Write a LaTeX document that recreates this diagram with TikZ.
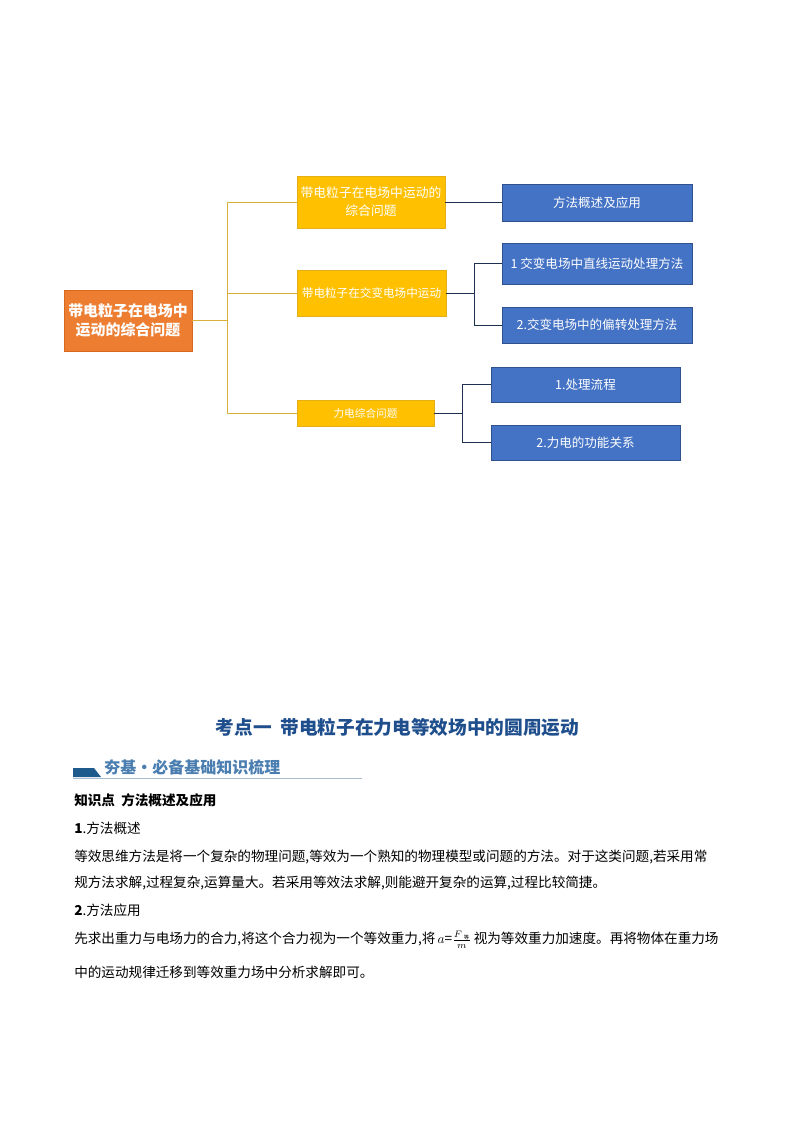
\documentclass[tikz,border=0pt]{standalone}
\usepackage{fontspec}
\setmainfont{Noto Sans CJK SC}
\usetikzlibrary{positioning,calc}
\definecolor{rootfill}{HTML}{ED7D31}
\definecolor{rootline}{HTML}{D86A20}
\definecolor{gold}{HTML}{FFC000}
\definecolor{goldline}{HTML}{E3AE16}
\definecolor{trunkline}{HTML}{D9AE3A}
\definecolor{leaf}{HTML}{4472C4}
\definecolor{leafline}{HTML}{2F528F}
\definecolor{navy}{HTML}{1F2F4F}
\definecolor{titleblue}{HTML}{1F4E8C}
\definecolor{headblue}{HTML}{4A7DB0}
\definecolor{headbar}{HTML}{1F5A8C}
\definecolor{rule}{HTML}{A9BCD0}
\tikzset{rootbox/.style={draw=rootline,fill=rootfill,text=white,align=center,font=\fontsize{11.2}{14.5}\selectfont\bfseries,minimum width=96pt,minimum height=45.75pt,inner sep=1pt},
midbox/.style={draw=goldline,fill=gold,text=white,align=center,inner sep=1pt},
leafbox/.style={draw=leafline,fill=leaf,text=white,align=center,font=\fontsize{9.4}{11}\selectfont,minimum width=142.5pt,inner sep=1pt},
trunk/.style={draw=trunkline,line width=0.7pt},
twig/.style={draw=navy,line width=0.7pt},
bodytext/.style={anchor=west,inner sep=0pt,font=\fontsize{10.2}{12}\selectfont}}

\begin{document}
\begin{tikzpicture}[x=0.75pt,y=-0.75pt]
\useasboundingbox (0,0) rectangle (794,1123);
% mind map
\node[rootbox] (root) at (128,320.5) {带电粒子在电场中\\运动的综合问题};
\node[midbox,minimum width=111pt,minimum height=39pt,font=\fontsize{9.6}{13.5}\selectfont] (y1) at (371,202) {带电粒子在电场中运动的\\综合问题};
\node[midbox,minimum width=111.75pt,minimum height=34.5pt,font=\fontsize{8.7}{11}\selectfont] (y2) at (371.5,293) {带电粒子在交变电场中运动};
\node[midbox,minimum width=102.75pt,minimum height=19.5pt,font=\fontsize{8}{10}\selectfont] (y3) at (365.5,413.5) {力电综合问题};
\node[leafbox,minimum height=27.75pt] (b1) at (597,202.5) {方法概述及应用};
\node[leafbox,minimum height=30.75pt] (b2) at (597,263.5) {1 交变电场中直线运动处理方法};
\node[leafbox,minimum height=27pt] (b3) at (597,325) {2.交变电场中的偏转处理方法};
\node[leafbox,minimum width=141.75pt,minimum height=26.25pt] (b4) at (585.5,384.5) {1.处理流程};
\node[leafbox,minimum width=141.75pt,minimum height=26.25pt] (b5) at (585.5,442.5) {2.力电的功能关系};
% connectors
\draw[trunk] (root.east) -- ++(35,0) coordinate (j0);
\draw[trunk] (j0) |- (y1.west);
\draw[trunk] (j0) |- (y2.west);
\draw[trunk] (j0) |- (y3.west);
\draw[twig] (y1.east) -- (y1.east -| b1.west);
\draw[twig] (y2.east) -- ++(28,0) coordinate (j2);
\draw[twig] (j2) |- (b2.west);
\draw[twig] (j2) |- (b3.west);
\draw[twig] (y3.east) -- ++(28,0) coordinate (j3);
\draw[twig] (j3) |- (b4.west);
\draw[twig] (j3) |- (b5.west);
% text part
\node[text=titleblue,font=\fontsize{14}{16}\selectfont\bfseries] (title) at (397.5,727) {考点一\ \ 带电粒子在力电等效场中的圆周运动};
\fill[headbar] (73,768) -- (94,768) -- (101,777) -- (73,777) -- cycle;
\node[anchor=west,inner sep=0pt,text=headblue,font=\fontsize{12}{14}\selectfont\bfseries] (head) at (104,767.5) {夯基·必备基础知识梳理};
\draw[rule,line width=0.6pt] (73,778) -- (362,778);
\node[bodytext,font=\fontsize{10.2}{12}\selectfont\bfseries] (kp) at (74,800) {知识点\ \ 方法概述及应用};
\node[bodytext] (s1) at (74,828) {\textbf{1}.方法概述};
\node[bodytext] (p1) at (74,857) {等效思维方法是将一个复杂的物理问题,等效为一个熟知的物理模型或问题的方法。对于这类问题,若采用常};
\node[bodytext] (p2) at (74,883) {规方法求解,过程复杂,运算量大。若采用等效法求解,则能避开复杂的运算,过程比较简捷。};
\node[bodytext] (s2) at (74,910) {\textbf{2}.方法应用};
\node[bodytext] (p3) at (74,940) {先求出重力与电场力的合力,将这个合力视为一个等效重力,将\,$a$=$\frac{F\,_{\mbox{\fontsize{4}{4}\selectfont 等}}}{m}$\,视为等效重力加速度。再将物体在重力场};
\node[bodytext] (p4) at (74,972) {中的运动规律迁移到等效重力场中分析求解即可。};
\end{tikzpicture}
\end{document}
